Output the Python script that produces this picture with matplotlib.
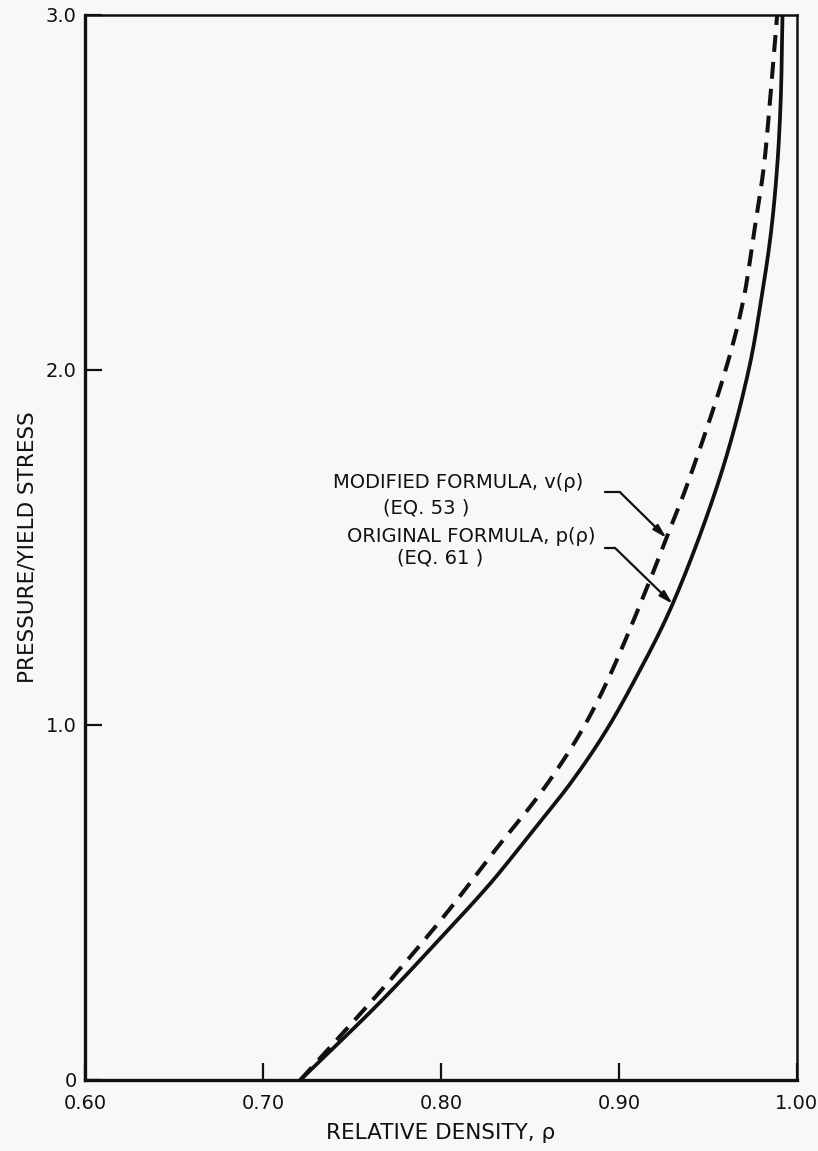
import numpy as np
import matplotlib
matplotlib.use("Agg")
import matplotlib.pyplot as plt

# values
rho_orig = [0.721, 0.766, 0.798, 0.828, 0.849, 0.873, 0.892, 0.908, 0.930,
            0.957, 0.973, 0.980, 0.9855, 0.989, 0.991, 0.992]
p_orig = [0.0, 0.22, 0.39, 0.555, 0.685, 0.837, 0.977, 1.118, 1.338,
          1.70, 2.0, 2.197, 2.386, 2.572, 2.76, 3.0]

rho_mod = [0.721, 0.766, 0.794, 0.809, 0.832, 0.856, 0.877, 0.893, 0.916,
           0.927, 0.938, 0.960, 0.970, 0.976, 0.9815, 0.985, 0.989]
p_mod = [0.0, 0.25, 0.414, 0.507, 0.657, 0.808, 0.966, 1.118, 1.389,
         1.53, 1.671, 2.0, 2.197, 2.386, 2.572, 2.76, 3.0]

xticks = [0.60, 0.70, 0.80, 0.90, 1.00]
xticklabels = ["0.60", "0.70", "0.80", "0.90", "1.00"]
yticks = [0, 1, 2, 3]
yticklabels = ["0", "1.0", "2.0", "3.0"]

ink = "#111111"
bg = "#f8f8f6"


def smooth(xs, ys, sx=1780.0, sy=355.0, n=16):
    # centripetal catmull-rom through the read points, only for drawing
    pts = np.column_stack([np.asarray(xs) * sx, np.asarray(ys) * sy])
    pts = np.vstack([2 * pts[0] - pts[1], pts, 2 * pts[-1] - pts[-2]])
    out = []
    for i in range(1, len(pts) - 2):
        p0, p1, p2, p3 = pts[i - 1], pts[i], pts[i + 1], pts[i + 2]
        t0 = 0.0
        t1 = t0 + np.linalg.norm(p1 - p0) ** 0.5
        t2 = t1 + np.linalg.norm(p2 - p1) ** 0.5
        t3 = t2 + np.linalg.norm(p3 - p2) ** 0.5
        t = np.linspace(t1, t2, n)[:, None]
        a1 = (t1 - t) / (t1 - t0) * p0 + (t - t0) / (t1 - t0) * p1
        a2 = (t2 - t) / (t2 - t1) * p1 + (t - t1) / (t2 - t1) * p2
        a3 = (t3 - t) / (t3 - t2) * p2 + (t - t2) / (t3 - t2) * p3
        b1 = (t2 - t) / (t2 - t0) * a1 + (t - t0) / (t2 - t0) * a2
        b2 = (t3 - t) / (t3 - t1) * a2 + (t - t1) / (t3 - t1) * a3
        c = (t2 - t) / (t2 - t1) * b1 + (t - t1) / (t2 - t1) * b2
        out.append(c if i == 1 else c[1:])
    out = np.vstack(out)
    return out[:, 0] / sx, out[:, 1] / sy


plt.rcParams["font.family"] = ["DejaVu Sans"]

fig = plt.figure(figsize=(8.18, 11.51), dpi=100, facecolor=bg)
ax = fig.add_axes([0.104, 0.0617, 0.870, 0.9253])
ax.set_facecolor(bg)

sx, sy = smooth(rho_orig, p_orig)
ax.plot(sx, sy, color=ink, lw=2.7, solid_capstyle="round")
mx, my = smooth(rho_mod, p_mod)
line, = ax.plot(mx, my, color=ink, lw=2.9)
line.set_dashes((4.2, 2.5))

ax.set_xlim(0.60, 1.00)
ax.set_ylim(0, 3.0)
ax.set_xticks(xticks, xticklabels)
ax.set_yticks(yticks, yticklabels)
ax.tick_params(axis="both", direction="in", length=12, width=1.6,
               colors=ink, labelsize=14)
ax.tick_params(axis="x", pad=10)
ax.tick_params(axis="y", pad=6)
for side in ["left", "bottom"]:
    ax.spines[side].set_linewidth(2.4)
for side in ["top", "right"]:
    ax.spines[side].set_linewidth(1.8)
for s in ax.spines.values():
    s.set_color(ink)

ax.set_xlabel("RELATIVE DENSITY, ρ", fontsize=15.5, color=ink, labelpad=7)
ax.set_ylabel("PRESSURE/YIELD STRESS", fontsize=15.5, color=ink, labelpad=6)

# labels with leader arrows
lab_fs = 14
ax.text(0.8798, 1.682, "MODIFIED FORMULA, v(ρ)", ha="right", va="center",
        fontsize=lab_fs, color=ink)
ax.text(0.7916, 1.611, "(EQ. 53 )", ha="center", va="center",
        fontsize=lab_fs, color=ink)
ax.text(0.8871, 1.532, "ORIGINAL FORMULA, p(ρ)", ha="right", va="center",
        fontsize=lab_fs, color=ink)
ax.text(0.7994, 1.470, "(EQ. 61 )", ha="center", va="center",
        fontsize=lab_fs, color=ink)

tip_mod = 1.527
tip_orig = 1.341
tips = [(np.interp(tip_mod, my, mx), tip_mod, 0.8921, 0.9006, 1.656),
        (np.interp(tip_orig, sy, sx), tip_orig, 0.8921, 0.8978, 1.499)]
for tx, ty, x0, x1, y0 in tips:
    ax.plot([x0, x1], [y0, y0], color=ink, lw=1.6, solid_capstyle="round")
    ax.annotate("", xy=(tx, ty), xytext=(x1, y0),
                arrowprops=dict(arrowstyle="-|>,head_length=0.8,head_width=0.22",
                                color=ink, lw=1.6, shrinkA=0, shrinkB=0))

fig.savefig("out.png", dpi=100, facecolor=bg)
